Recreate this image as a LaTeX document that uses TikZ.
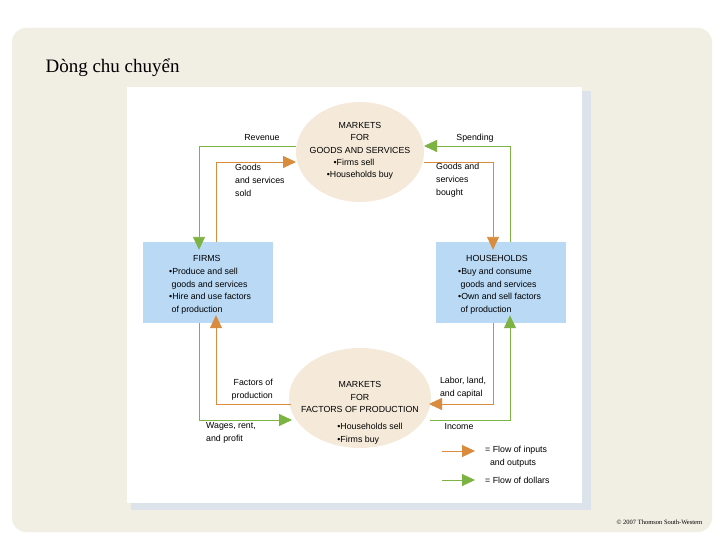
\documentclass[tikz,border=0pt]{standalone}
\usepackage{fontspec}
\setmainfont{Liberation Sans}
\newfontfamily\serifv{Liberation Serif}
\usetikzlibrary{arrows.meta,shapes.geometric}
\definecolor{beige}{HTML}{F5EAD9}
\definecolor{panel}{HTML}{F1EEE4}
\definecolor{boxblue}{HTML}{B9D9F5}
\definecolor{fgreen}{HTML}{7CB342}
\definecolor{forange}{HTML}{D98C3D}
\definecolor{shadowc}{HTML}{DDE3EA}
\tikzset{
  mkt/.style={ellipse,fill=beige,draw=none,align=center},
  agent/.style={rectangle,fill=boxblue,draw=none,minimum width=130pt,minimum height=81pt},
  lbl/.style={font=\fontsize{8.8}{12.8}\selectfont,align=left,inner sep=0pt},
  tip/.style={-{Triangle[length=13pt,width=12pt]}},
  gflow/.style={draw=fgreen,line width=0.9pt,tip,fgreen},
  oflow/.style={draw=forange,line width=0.9pt,tip,forange},
}
\begin{document}
\begin{tikzpicture}[x=1pt,y=-1pt]
\useasboundingbox (0,0) rectangle (720,540);
\fill[white] (0,0) rectangle (720,540);
\fill[panel,rounded corners=14pt] (12,28) rectangle (712,532);
\fill[shadowc] (131,91) rectangle (591,510);
\fill[white] (127,87) rectangle (582,503);
\node[font=\serifv\fontsize{19}{22}\selectfont,anchor=west] (title) at (42,68) {Dòng chu chuyển};
\node[font=\serifv\fontsize{6.5}{7}\selectfont,anchor=east] (copy) at (706,522) {© 2007 Thomson South-Western};

\node[mkt,minimum width=128pt,minimum height=100pt] (gm) at (360,152) {};
\node[lbl,align=center,font=\fontsize{8.8}{12.4}\selectfont] (gmt) at (360,151) {MARKETS\\FOR\\GOODS AND SERVICES\\\hspace*{-12pt}\textbullet Firms sell\\\textbullet Households buy};
\node[mkt,minimum width=142pt,minimum height=100pt] (fm) at (360,398) {};
\node[lbl,align=center] (fmt) at (360,397) {MARKETS\\FOR\\FACTORS OF PRODUCTION};
\node[lbl] (fmb) at (370,434) {\textbullet Households sell\\\textbullet Firms buy};

\node[agent] (firms) at (208,282.5) {};
\node[lbl,anchor=west] (firmst) at (169,285) {\hspace*{24pt}FIRMS\\\textbullet Produce and sell\\\ goods and services\\\textbullet Hire and use factors\\\ of production};
\node[agent] (hh) at (501,282.5) {};
\node[lbl,anchor=west] (hht) at (458,285) {\hspace*{8pt}HOUSEHOLDS\\\textbullet Buy and consume\\\ goods and services\\\textbullet Own and sell factors\\\ of production};

% top flows
\coordinate (g1) at (296,146); \coordinate (g1b) at (199,146);
\draw[gflow] (g1) -- (g1b) -- ([yshift=-8pt]firms.north -| g1b);
\coordinate (o1) at (216,162);
\draw[oflow] (firms.north -| o1) -- (o1) -- (296,162);
\coordinate (o2) at (493,162);
\draw[oflow] (424,162) -- (o2) -- ([yshift=-8pt]hh.north -| o2);
\coordinate (g2) at (510,146);
\draw[gflow] (hh.north -| g2) -- (g2) -- (424,146);
% bottom flows
\coordinate (g3) at (199,420);
\draw[gflow] (firms.south -| g3) -- (g3) -- (292,420);
\coordinate (o3) at (216,404);
\draw[oflow] (291,404) -- (o3) -- ([yshift=8pt]firms.south -| o3);
\coordinate (o4) at (493,404);
\draw[oflow] (hh.south -| o4) -- (o4) -- (429,404);
\coordinate (g4) at (510,420);
\draw[gflow] (430,420) -- (g4) -- ([yshift=8pt]hh.south -| g4);

\node[lbl] (rev) at (262,138) {Revenue};
\node[lbl,anchor=north west] (gss) at (235,164) {Goods\\and services\\sold};
\node[lbl] (sp) at (475,138) {Spending};
\node[lbl,anchor=north west] (gsb) at (436,163) {Goods and\\services\\bought};
\node[lbl,align=right,anchor=east] (fop) at (273,390) {Factors of\\production};
\node[lbl,anchor=north west] (wrp) at (206,422) {Wages, rent,\\and profit};
\node[lbl,align=left,anchor=center] (llc) at (463,388) {Labor, land,\\and capital};
\node[lbl] (inc) at (459,427) {Income};

% legend
\coordinate (l1a) at (442,451); \coordinate (l1b) at (475,451);
\draw[oflow] (l1a) -- (l1b);
\node[lbl,anchor=north west] (l1t) at (485,446) {= Flow of inputs\\\ \ and outputs};
\coordinate (l2a) at (442,480); \coordinate (l2b) at (475,480);
\draw[gflow] (l2a) -- (l2b);
\node[lbl,anchor=west] (l2t) at (485,480) {= Flow of dollars};
\end{tikzpicture}
\end{document}
